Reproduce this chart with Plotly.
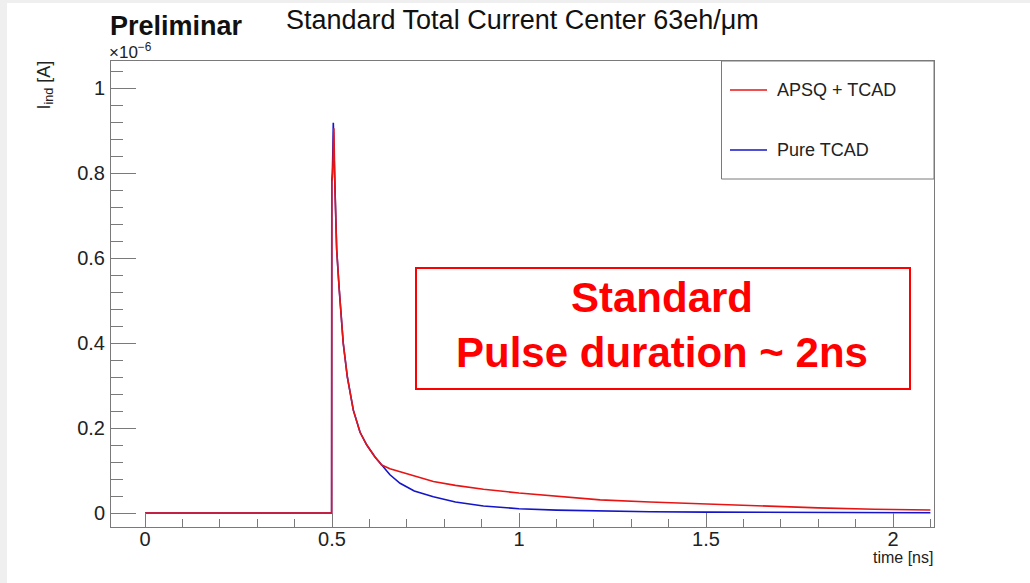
import plotly.graph_objects as go

# Induced current vs time (current in units of 1e-6 A)
time_ns = [0.0, 0.499, 0.4995, 0.501, 0.5025, 0.5035, 0.505, 0.508, 0.5125, 0.519,
           0.53, 0.541, 0.557, 0.575, 0.593, 0.615, 0.633, 0.655, 0.682, 0.72,
           0.771, 0.83, 0.905, 1.0, 1.1, 1.217, 1.35, 1.5, 1.65, 1.8, 1.95, 2.1]

apsq_tcad = [0, 0, 0.78, 0.79, 0.82, 0.86, 0.905, 0.76, 0.62, 0.53,
             0.40, 0.32, 0.242, 0.19, 0.16, 0.132, 0.113, 0.104, 0.097, 0.086,
             0.074, 0.065, 0.056, 0.047, 0.039, 0.031, 0.026, 0.021, 0.016, 0.012, 0.009, 0.007]

pure_tcad = [0, 0, 0.78, 0.80, 0.86, 0.918, 0.86, 0.75, 0.62, 0.53,
             0.40, 0.32, 0.242, 0.19, 0.16, 0.132, 0.113, 0.09, 0.070, 0.052,
             0.038, 0.026, 0.0165, 0.010, 0.0068, 0.0047, 0.003, 0.002, 0.0015, 0.001, 0.0008, 0.0006]

series_names = ["APSQ + TCAD", "Pure TCAD"]
series_colors = ["rgb(232,20,20)", "rgb(20,20,200)"]

x_ticks = [0, 0.5, 1, 1.5, 2]
y_ticks = [0, 0.2, 0.4, 0.6, 0.8, 1]

W, H = 1030, 583
L, R, T, B = 111, 934, 61, 527
FONT = "Liberation Sans, Arial, Helvetica, sans-serif"
FRAME = "#7a7a7a"


def px(x):
    return (x - L) / (R - L)


def py(y):
    return (B - y) / (B - T)


fig = go.Figure()
for name, vals, col in [(series_names[1], pure_tcad, series_colors[1]),
                        (series_names[0], apsq_tcad, series_colors[0])]:
    fig.add_trace(go.Scatter(x=time_ns, y=vals, mode="lines", name=name,
                             line=dict(color=col, width=1.6), showlegend=False))

shapes = [
    # light grey page edges
    dict(type="rect", xref="paper", yref="paper", x0=px(0), x1=px(7), y0=py(0), y1=py(H),
         fillcolor="#efefef", line=dict(width=0), layer="below"),
    dict(type="rect", xref="paper", yref="paper", x0=px(0), x1=px(W), y0=py(0), y1=py(3),
         fillcolor="#efefef", line=dict(width=0), layer="below"),
    # legend box
    dict(type="rect", xref="paper", yref="paper", x0=px(721.5), x1=px(934), y0=py(61), y1=py(179),
         fillcolor="white", line=dict(color=FRAME, width=1)),
    dict(type="line", xref="paper", yref="paper", x0=px(730), x1=px(767), y0=py(90), y1=py(90),
         line=dict(color=series_colors[0], width=1.6)),
    dict(type="line", xref="paper", yref="paper", x0=px(730), x1=px(767), y0=py(150), y1=py(150),
         line=dict(color=series_colors[1], width=1.6)),
    # highlighted text box
    dict(type="rect", xref="paper", yref="paper", x0=px(416), x1=px(910), y0=py(268), y1=py(389),
         fillcolor="rgba(0,0,0,0)", line=dict(color="rgb(255,0,0)", width=2)),
]


def label(text, x, y, size, xanchor="center", yanchor="middle", color="#222", **kw):
    return dict(text=text, xref="paper", yref="paper", x=px(x), y=py(y),
                xanchor=xanchor, yanchor=yanchor, showarrow=False,
                font=dict(family=FONT, size=size, color=color), **kw)


annotations = [
    label("Standard Total Current Center 63eh/\u03bcm", 522, 20, 27, color="#111"),
    label("<b>Preliminar</b>", 108, 26, 27, xanchor="left", color="#111"),
    label("\u00d710<sup>\u22126</sup>", 107, 51, 17, xanchor="left"),
    label("I<sub>ind</sub> [A]", 45, 59, 18, yanchor="top", textangle=-90),
    label("time [ns]", 935, 557, 16, xanchor="right"),
    label(series_names[0], 775, 90, 18, xanchor="left"),
    label(series_names[1], 775, 150, 18, xanchor="left"),
    label("<b>Standard</b>", 662, 297, 42, color="rgb(255,0,0)"),
    label("<b>Pulse duration ~ 2ns</b>", 662, 352, 42, color="rgb(255,0,0)"),
]

fig.update_layout(
    width=W, height=H, autosize=False,
    margin=dict(l=L, r=W - R, t=T, b=H - B, pad=0),
    paper_bgcolor="white", plot_bgcolor="white",
    shapes=shapes, annotations=annotations, showlegend=False,
    font=dict(family=FONT, size=20, color="#222"),
)

fig.update_xaxes(
    range=[(L - 145) / 374, (R - 145) / 374],
    tickvals=x_ticks, ticks="inside", ticklen=14, tickcolor=FRAME, tickwidth=1,
    minor=dict(dtick=0.1, tick0=0, ticks="inside", ticklen=8, tickcolor=FRAME, tickwidth=1),
    showline=True, linecolor=FRAME, linewidth=1, mirror=True,
    showgrid=False, zeroline=False, tickfont=dict(size=20), ticklabelstandoff=-6,
)
fig.update_yaxes(
    range=[(513 - B) / 425, (513 - T) / 425],
    tickvals=y_ticks, ticks="inside", ticklen=25, tickcolor=FRAME, tickwidth=1,
    minor=dict(dtick=0.04, tick0=0, ticks="inside", ticklen=12, tickcolor=FRAME, tickwidth=1),
    showline=True, linecolor=FRAME, linewidth=1, mirror=True,
    showgrid=False, zeroline=False, tickfont=dict(size=20), ticklabelstandoff=1,
)

fig.write_html("out.html")
